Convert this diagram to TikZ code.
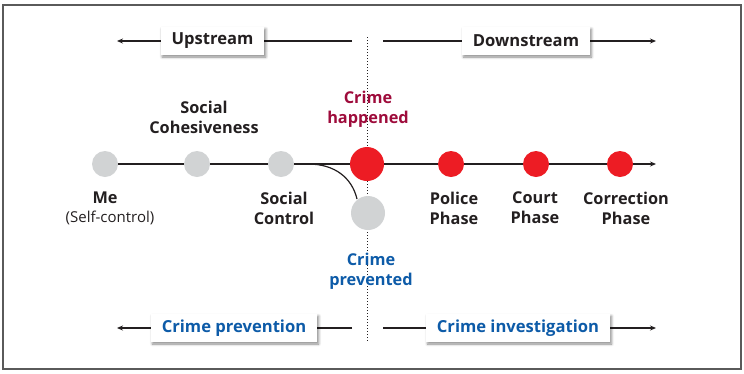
\documentclass[tikz,border=0pt]{standalone}
\usepackage{fontspec}
\setmainfont{Open Sans}
\usetikzlibrary{shadows.blur,arrows.meta}
\definecolor{txt}{HTML}{231F20}
\definecolor{cred}{HTML}{ED1C24}
\definecolor{cgray}{HTML}{D1D3D4}
\definecolor{dred}{HTML}{9E0B3B}
\definecolor{cblue}{HTML}{0D5BA8}
\definecolor{frame}{HTML}{5A5A5A}
\tikzset{
  lbl/.style={font=\fontsize{16.3}{20}\selectfont\bfseries, text=txt, align=center, inner sep=0pt},
  tagbox/.style={fill=white, font=\fontsize{16.6}{18}\selectfont\bfseries, text=txt, minimum height=28pt, inner xsep=11pt,
    blur shadow={shadow xshift=1.5pt, shadow yshift=-2pt, shadow blur radius=2.5pt, shadow blur steps=6, shadow opacity=45}},
  dot/.style={circle, inner sep=0pt, minimum size=26pt},
  bigdot/.style={circle, inner sep=0pt, minimum size=34pt},
  conn/.style={line width=1.2pt, draw=txt},
  arr/.style={conn, -{Stealth[length=6pt,width=5pt]}},
}
\begin{document}
\begin{tikzpicture}[x=1pt,y=-1pt]
\useasboundingbox (0,0) rectangle (744,373);
\draw[frame, line width=1.5pt] (3,5) rectangle (741,369);
% dotted divider
\coordinate (dtop) at (367,37);
\coordinate (dbot) at (367,341);
\draw[txt, line width=1pt, dotted] (dtop) -- (dbot);
% top arrows
\coordinate (ul) at (117,41);
\coordinate (ur) at (352,41);
\coordinate (dl) at (383,41);
\coordinate (dr) at (656,41);
\draw[arr] (ur) -- (ul);
\draw[arr] (dl) -- (dr);
\node[tagbox] (up) at (212.5,41) {Upstream};
\node[tagbox] (down) at (526,41) {Downstream};
% bottom arrows
\coordinate (bl) at (117,328);
\coordinate (br) at (352,328);
\coordinate (bl2) at (383,328);
\coordinate (br2) at (656,328);
\draw[arr] (br) -- (bl);
\draw[arr] (bl2) -- (br2);
\node[tagbox, text=cblue] (prev) at (234,328) {Crime prevention};
\node[tagbox, text=cblue] (inv) at (518,328) {Crime investigation};
% main line
\coordinate (mstart) at (105,164);
\coordinate (mend) at (656,164);
\draw[arr] (mstart) -- (mend);
\coordinate (bend) at (308,164);
\draw[conn] (bend) .. controls (335,164) and (352,178) .. (357,199);
% circles
\node[dot, fill=cgray] (me) at (105,164) {};
\node[dot, fill=cgray] (coh) at (197,164) {};
\node[dot, fill=cgray] (sc) at (281,164) {};
\node[bigdot, fill=cred] (ch) at (367,164) {};
\node[bigdot, fill=cgray] (cp) at (368,213) {};
\node[dot, fill=cred] (pol) at (451,164) {};
\node[dot, fill=cred] (court) at (536,164) {};
\node[dot, fill=cred] (corr) at (620,164) {};
% labels
\node[lbl] (lcoh) at (204,117) {Social\\Cohesiveness};
\node[lbl] (lme) at (105,198) {Me};
\node[lbl, font=\fontsize{15}{20}\selectfont] (lself) at (110,218) {(Self-control)};
\node[lbl] (lsc) at (284,208) {Social\\Control};
\node[lbl, text=dred] (lch) at (368,109) {Crime\\happened};
\node[lbl, text=cblue] (lcp) at (371,271) {Crime\\prevented};
\node[lbl] (lpol) at (454,208) {Police\\Phase};
\node[lbl] (lcourt) at (535,208) {Court\\Phase};
\node[lbl] (lcorr) at (626,208) {Correction\\Phase};
\end{tikzpicture}
\end{document}
